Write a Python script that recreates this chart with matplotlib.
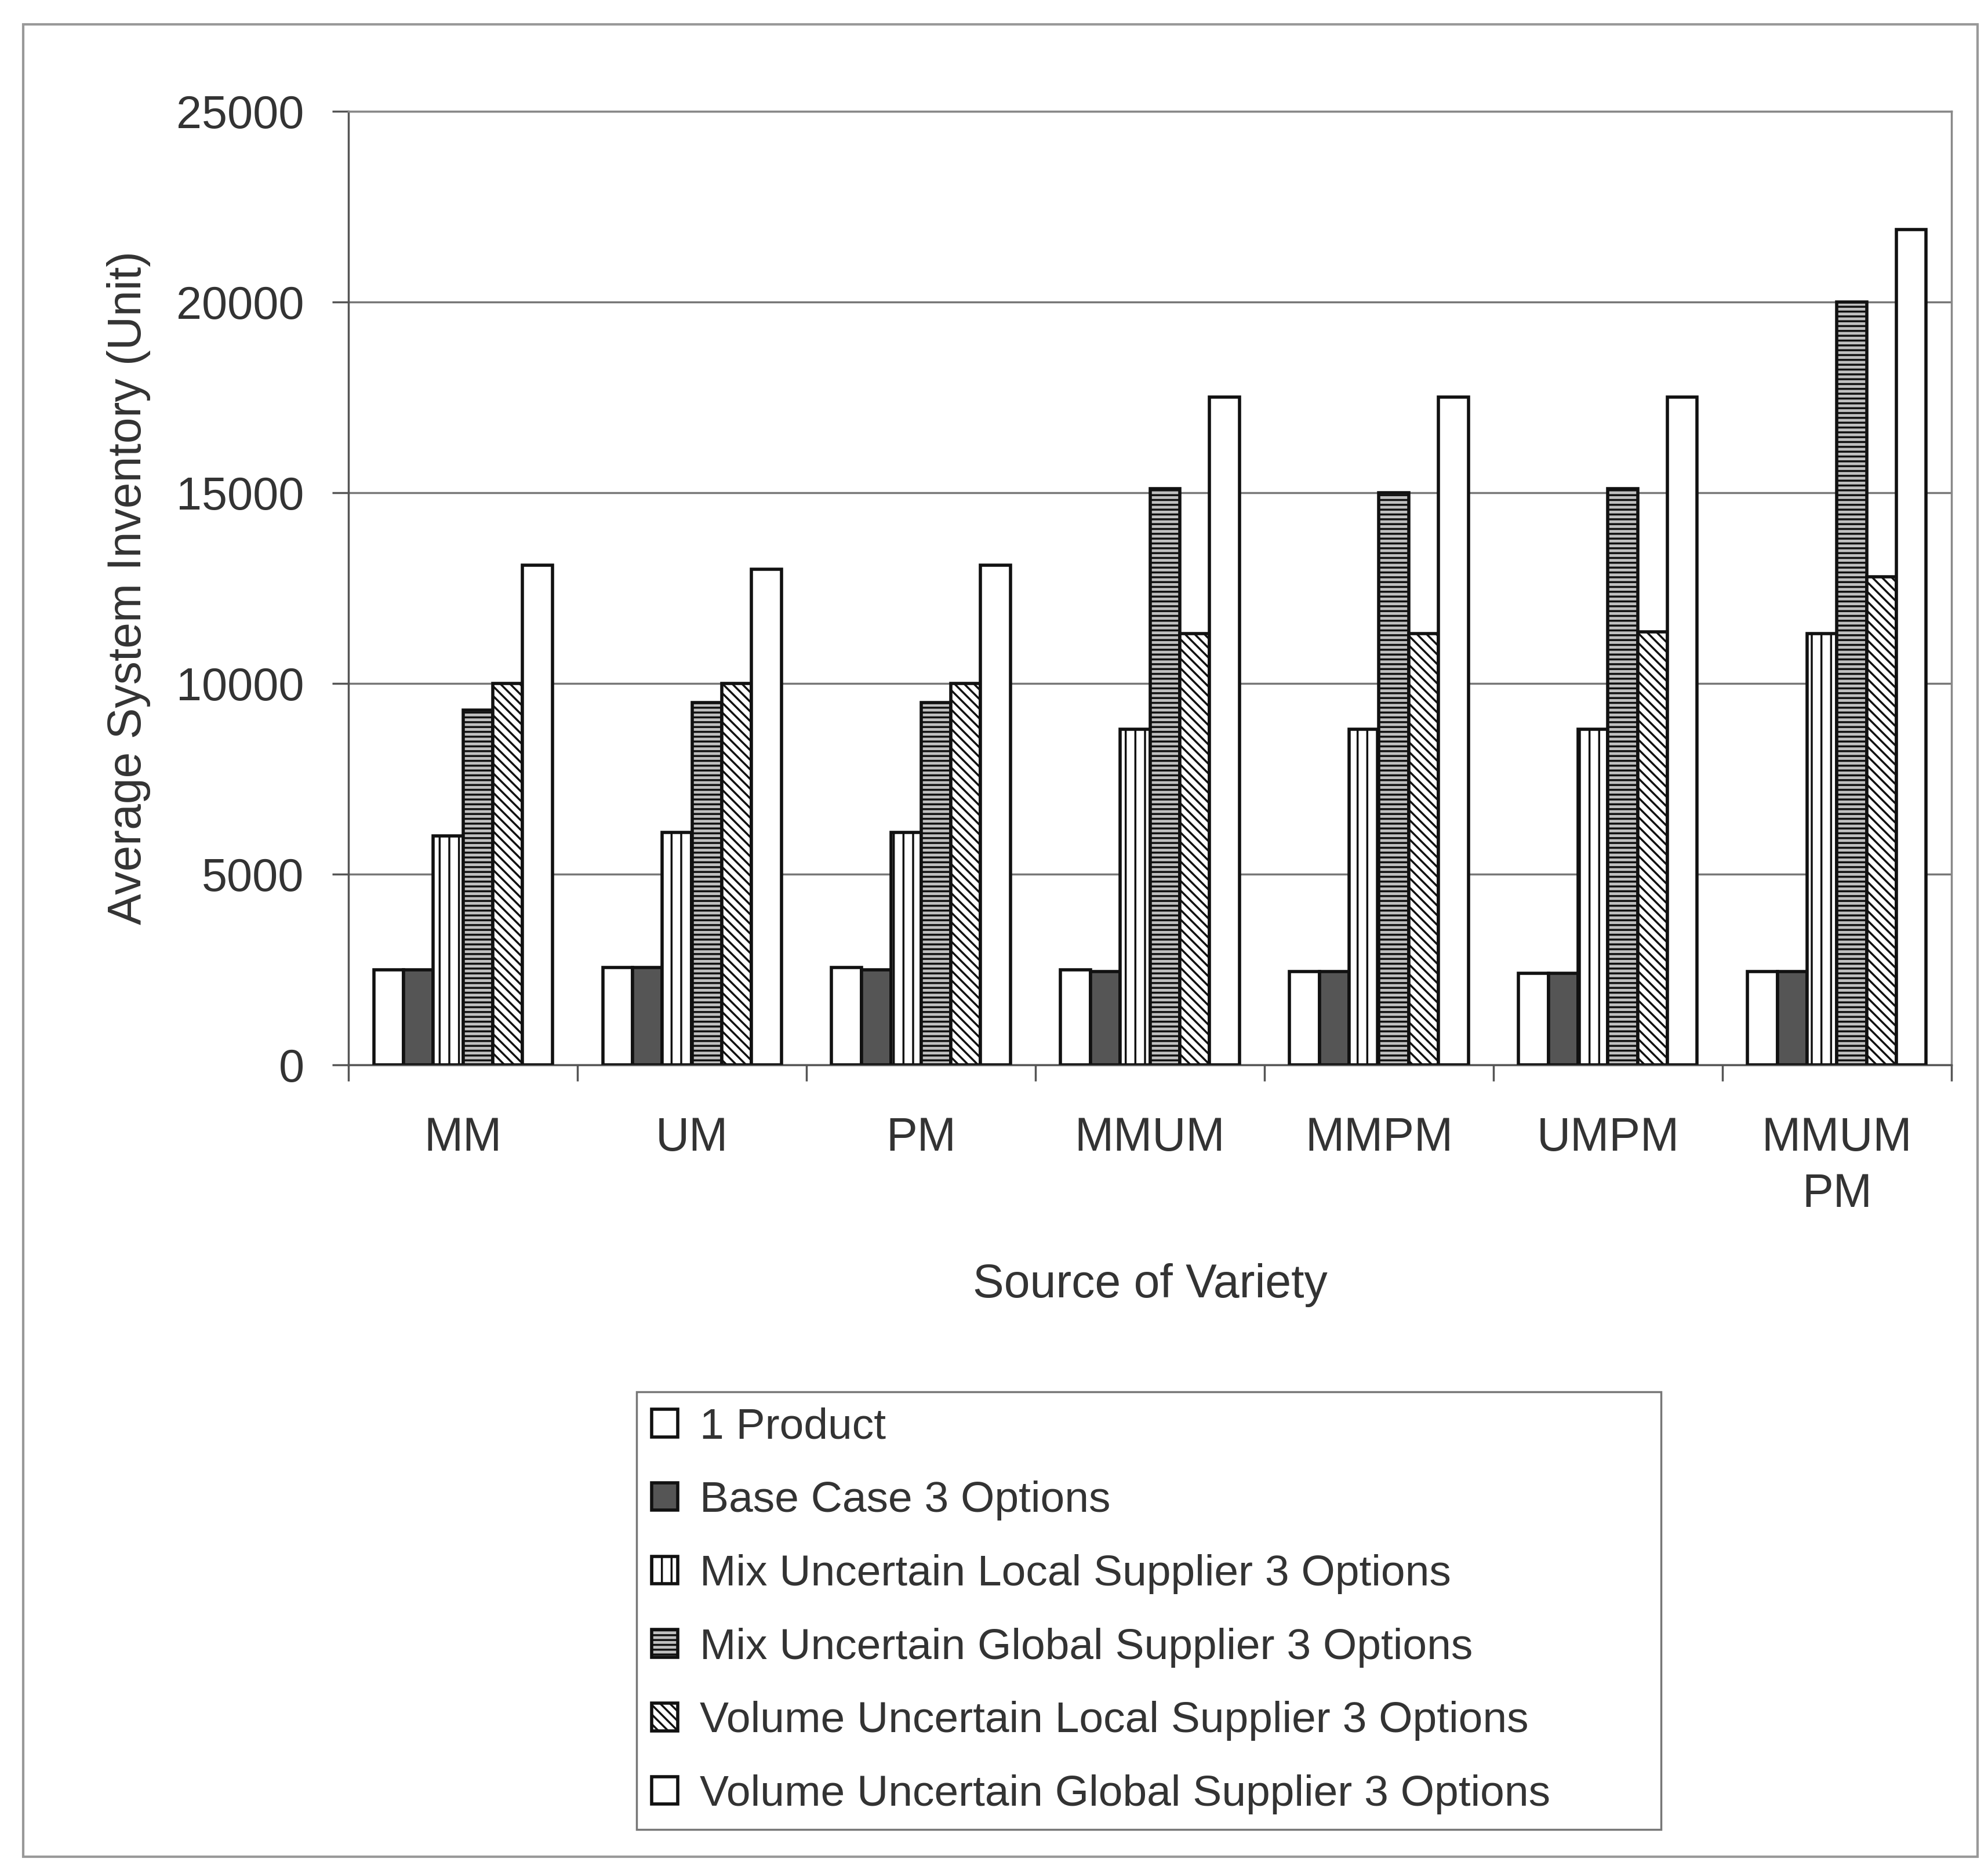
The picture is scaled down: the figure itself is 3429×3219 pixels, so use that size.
import matplotlib.pyplot as plt
import numpy as np
from matplotlib.patches import Rectangle

plt.rcParams['font.family'] = ['Liberation Sans', 'DejaVu Sans']
plt.rcParams['hatch.linewidth'] = 2.5

categories = ['MM', 'UM', 'PM', 'MMUM', 'MMPM', 'UMPM', 'MMUM\nPM']

one_product = [2500, 2550, 2550, 2500, 2450, 2400, 2450]
base_case = [2500, 2550, 2500, 2450, 2450, 2400, 2450]
mix_local = [6000, 6100, 6100, 8800, 8800, 8800, 11300]
mix_global = [9300, 9500, 9500, 15100, 15000, 15100, 20000]
vol_local = [10000, 10000, 10000, 11300, 11300, 11350, 12800]
vol_global = [13100, 13000, 13100, 17500, 17500, 17500, 21900]

series = [
    ('1 Product', one_product),
    ('Base Case 3 Options', base_case),
    ('Mix Uncertain Local Supplier 3 Options', mix_local),
    ('Mix Uncertain Global Supplier 3 Options', mix_global),
    ('Volume Uncertain Local Supplier 3 Options', vol_local),
    ('Volume Uncertain Global Supplier 3 Options', vol_global),
]
faces = ['white', '#555555', 'white', '#c0c0c0', 'white', 'white']
hatches = [None, None, '|', '--', '\\\\', None]

fig = plt.figure(figsize=(34.29, 32.19), dpi=100)
ax = fig.add_axes([0.1753, 0.4293, 0.8063, 0.5111])

x = np.arange(len(categories))
w = 0.78 / 6
for i, (name, vals) in enumerate(series):
    ax.bar(x - 0.39 + w * (i + 0.5), vals, w, color=faces[i], edgecolor='#111111',
           linewidth=4, hatch=hatches[i], label=name, zorder=3)

ax.set_xlim(-0.5, len(categories) - 0.5)
ax.set_ylim(0, 25000)
ax.set_yticks(np.arange(0, 25001, 5000))
ax.yaxis.grid(True, color='#777777', linewidth=2.5, zorder=0)

ax.set_xticks(x)
ax.set_xticklabels(categories, fontsize=58, linespacing=1.35)
ax.set_xticks(np.arange(-0.5, len(categories), 1), minor=True)
ax.tick_params(axis='x', which='major', length=0, pad=64)
ax.tick_params(axis='x', which='minor', length=20, width=2.5, color='#555555')
ax.tick_params(axis='y', labelsize=57, length=20, width=2.5, color='#555555', pad=35)
for lab in ax.get_xticklabels() + ax.get_yticklabels():
    lab.set_color('#333333')

for s in ax.spines.values():
    s.set_color('#888888')
    s.set_linewidth(2.5)
ax.spines['left'].set_color('#555555')
ax.spines['bottom'].set_color('#555555')

ax.set_ylabel('Average System Inventory (Unit)', fontsize=58, color='#333333', labelpad=32)
ax.set_xlabel('Source of Variety', fontsize=58, color='#333333', labelpad=58)

leg = fig.legend(loc='upper left', bbox_to_anchor=(0.3202, 0.0134, 0.5154, 0.2407),
                 mode='expand', fontsize=54, borderaxespad=0,
                 handlelength=0.6, handleheight=0.6, handletextpad=0.5,
                 labelspacing=0.77, borderpad=0.35, fancybox=False,
                 edgecolor='#777777', framealpha=1)
leg.get_frame().set_linewidth(2.5)
for t in leg.get_texts():
    t.set_color('#333333')

fig.patches.append(Rectangle((0.0117, 0.005), 0.983, 0.982, transform=fig.transFigure,
                             fill=False, edgecolor='#999999', linewidth=3))

fig.savefig('out.png', dpi=100, facecolor='white')
